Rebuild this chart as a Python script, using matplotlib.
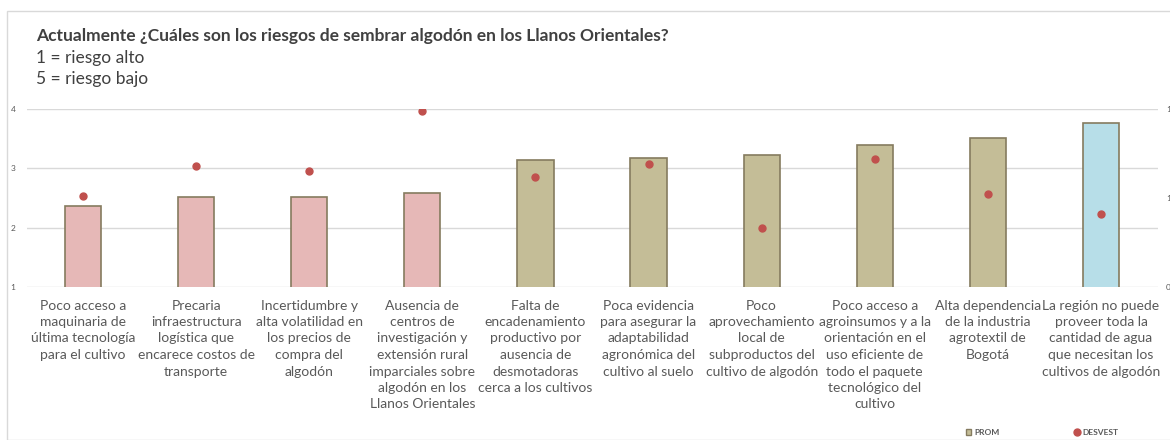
import numpy as np
import matplotlib
matplotlib.use("Agg")
import matplotlib.pyplot as plt
from matplotlib.patches import Rectangle, Patch
from matplotlib.lines import Line2D

plt.rcParams['font.family'] = ['Lato', 'DejaVu Sans']

# datos
categorias = [
    "Poco acceso a\nmaquinaria de\núltima tecnología\npara el cultivo",
    "Precaria\ninfraestructura\nlogística que\nencarece costos de\ntransporte",
    "Incertidumbre y\nalta volatilidad en\nlos precios de\ncompra del\nalgodón",
    "Ausencia de\ncentros de\ninvestigación y\nextensión rural\nimparciales sobre\nalgodón en los\nLlanos Orientales",
    "Falta de\nencadenamiento\nproductivo por\nausencia de\ndesmotadoras\ncerca a los cultivos",
    "Poca evidencia\npara asegurar la\nadaptabilidad\nagronómica del\ncultivo al suelo",
    "Poco\naprovechamiento\nlocal de\nsubproductos del\ncultivo de algodón",
    "Poco acceso a\nagroinsumos y a la\norientación en el\nuso eficiente de\ntodo el paquete\ntecnológico del\ncultivo",
    "Alta dependencia\nde la industria\nagrotextil de\nBogotá",
    "La región no puede\nproveer toda la\ncantidad de agua\nque necesitan los\ncultivos de algodón",
]
prom = [2.37, 2.51, 2.51, 2.58, 3.14, 3.18, 3.22, 3.40, 3.51, 3.76]
desvest = [1.01, 1.18, 1.15, 1.49, 1.12, 1.19, 0.83, 1.22, 1.02, 0.91]
ticks_izq = [1, 2, 3, 4]
ticks_der = [0.5, 1.0, 1.5]

# estilo
colores = ['#E6B8B7'] * 4 + ['#C4BD97'] * 5 + ['#B7DEE8']
borde = '#857b5f'
rojo = '#C0504D'
gris = '#595959'

W, H = 1170, 440
fig = plt.figure(figsize=(W / 100, H / 100), dpi=100)
fig.patches.append(Rectangle((7 / W, 0), 1, 1 - 11 / H, transform=fig.transFigure,
                             fill=False, edgecolor='#D9D9D9', lw=1))

ax = fig.add_axes([26.5 / W, 1 - 287 / H, (1157.5 - 26.5) / W, (287 - 109) / H])
x = np.arange(len(prom))
ax.bar(x, prom, width=0.32, color=colores, edgecolor=borde, linewidth=1.2, zorder=3)
ax.set_xlim(-0.5, len(prom) - 0.5)
ax.set_ylim(1, 4)
ax.set_yticks(ticks_izq)
ax.set_yticklabels([str(t) for t in ticks_izq])
ax.grid(axis='y', color='#D9D9D9', lw=1, zorder=0)
for s in ax.spines.values():
    s.set_visible(False)
ax.set_xticks(x)
ax.set_xticklabels(categorias, fontsize=10, color=gris, linespacing=1.45)
ax.tick_params(axis='x', length=0, pad=9)
ax.tick_params(axis='y', length=0, pad=8, labelsize=6, labelcolor=gris)

ax2 = ax.twinx()
ax2.plot(x, desvest, 'o', color=rojo, markersize=5, zorder=4)
ax2.set_ylim(0.5, 1.5)
ax2.set_yticks(ticks_der)
ax2.set_yticklabels(['0,5', '1', '1,5'])
ax2.tick_params(axis='y', length=0, pad=6, labelsize=6, labelcolor=gris)
for s in ax2.spines.values():
    s.set_visible(False)

fig.text(36 / W, 1 - 36 / H, "Actualmente ¿Cuáles son los riesgos de sembrar algodón en los Llanos Orientales?",
         fontsize=12.5, fontweight='bold', color='#404040', va='center')
fig.text(36 / W, 1 - 58 / H, "1 = riesgo alto", fontsize=12.5, color='#404040', va='center')
fig.text(36 / W, 1 - 79 / H, "5 = riesgo bajo", fontsize=12.5, color='#404040', va='center')

handles = [Patch(facecolor='#C4BD97', edgecolor=borde, lw=1),
           Line2D([], [], marker='o', color=rojo, ls='', markersize=5)]
fig.legend(handles, ['PROM', 'DESVEST'], ncol=2, loc='center',
           bbox_to_anchor=(1042 / W, 1 - 432 / H), frameon=False,
           prop={'size': 6, 'weight': 'bold'}, labelcolor=gris,
           handlelength=0.7, handleheight=0.7, handletextpad=0.3, columnspacing=9)

fig.savefig('out.png', dpi=100)
